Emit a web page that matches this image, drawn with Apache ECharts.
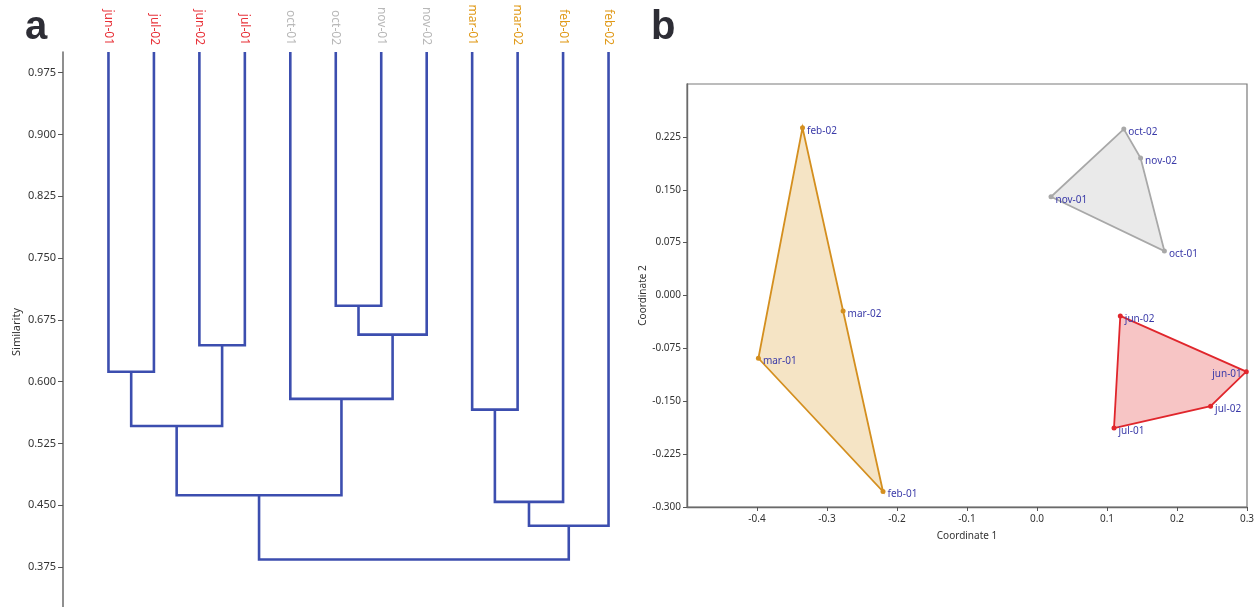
<!DOCTYPE html>
<html><head><meta charset="utf-8">
<script src="https://cdn.jsdelivr.net/npm/echarts@6/dist/echarts.min.js"></script>
<style>html,body{margin:0;padding:0;background:#fff}#c{width:1258px;height:607px}</style>
</head><body><div id="c"></div>
<script>
// ---- Panel a: dendrogram data ----
const leaves = ['jun-01','jul-02','jun-02','jul-01','oct-01','oct-02','nov-01','nov-02','mar-01','mar-02','feb-01','feb-02'];
const leafGroups = ['summer','summer','summer','summer','autumn','autumn','autumn','autumn','spring','spring','spring','spring'];
const mergeLeft = [0, 2, 12, 5, 15, 4, 14, 8, 19, 20, 18];
const mergeRight = [1, 3, 13, 6, 7, 16, 17, 9, 10, 11, 21];
const mergeSimilarity = [0.612, 0.644, 0.546, 0.692, 0.657, 0.579, 0.462, 0.566, 0.454, 0.425, 0.384];
const similarityTicks = [0.375, 0.45, 0.525, 0.6, 0.675, 0.75, 0.825, 0.9, 0.975];
const leafTop = 1.0;
const similarityMin = 0.3264;

// ---- Panel b: PCoA data ----
const pointNames = ['feb-02','mar-02','mar-01','feb-01','oct-02','nov-02','nov-01','oct-01','jun-02','jun-01','jul-02','jul-01'];
const coord1 = [-0.335, -0.277, -0.398, -0.220, 0.124, 0.148, 0.020, 0.182, 0.119, 0.299, 0.248, 0.110];
const coord2 = [0.238, -0.022, -0.089, -0.278, 0.236, 0.195, 0.140, 0.063, -0.029, -0.108, -0.157, -0.188];
const pointGroups = ['spring','spring','spring','spring','autumn','autumn','autumn','autumn','summer','summer','summer','summer'];
const coord1Ticks = [-0.4, -0.3, -0.2, -0.1, 0, 0.1, 0.2, 0.3];
const coord2Ticks = [-0.3, -0.225, -0.15, -0.075, 0, 0.075, 0.15, 0.225];

const groupOrder = ['spring','autumn','summer'];
const labelColors = {summer:'#e8333a', autumn:'#b8b8b8', spring:'#e09a1a'};
const lineColors = {summer:'#e0262c', autumn:'#a8a8a8', spring:'#d48f1f'};
const fillColors = {summer:'rgba(240,150,150,0.55)', autumn:'rgba(220,220,220,0.6)', spring:'rgba(236,206,150,0.55)'};
const FONT = 'Noto Sans';

// build dendrogram segments
const nodeX = leaves.map((_, i) => i);
const nodeH = leaves.map(() => leafTop);
const segs = [];
mergeLeft.forEach((l, k) => {
  const r = mergeRight[k], h = mergeSimilarity[k];
  segs.push({coords: [[nodeX[l], nodeH[l]], [nodeX[l], h], [nodeX[r], h], [nodeX[r], nodeH[r]]]});
  nodeX.push((nodeX[l] + nodeX[r]) / 2);
  nodeH.push(h);
});

// convex hull (monotone chain)
function hull(pts) {
  pts = pts.slice().sort((a, b) => a[0] - b[0] || a[1] - b[1]);
  const cross = (o, a, b) => (a[0]-o[0])*(b[1]-o[1]) - (a[1]-o[1])*(b[0]-o[0]);
  const lower = [], upper = [];
  for (const p of pts) { while (lower.length >= 2 && cross(lower[lower.length-2], lower[lower.length-1], p) <= 0) lower.pop(); lower.push(p); }
  for (let i = pts.length - 1; i >= 0; i--) { const p = pts[i]; while (upper.length >= 2 && cross(upper[upper.length-2], upper[upper.length-1], p) <= 0) upper.pop(); upper.push(p); }
  upper.pop(); lower.pop();
  return lower.concat(upper);
}

const series = [];
series.push({
  type: 'lines', coordinateSystem: 'cartesian2d', xAxisIndex: 0, yAxisIndex: 0,
  polyline: true, silent: true,
  lineStyle: {color: '#3c4eaf', width: 2.6, opacity: 1},
  data: segs
});

groupOrder.forEach(g => {
  const pts = [];
  pointNames.forEach((n, i) => { if (pointGroups[i] === g) pts.push([coord1[i], coord2[i], n]); });
  const h = hull(pts.map(p => [p[0], p[1]]));
  series.push({
    type: 'custom', coordinateSystem: 'cartesian2d', xAxisIndex: 1, yAxisIndex: 1, silent: true, z: 1,
    data: [[h[0][0], h[0][1]]],
    renderItem: (params, api) => ({
      type: 'polygon',
      shape: {points: h.map(p => api.coord(p))},
      style: {fill: fillColors[g], stroke: lineColors[g], lineWidth: 1.8}
    })
  });
  series.push({
    type: 'scatter', xAxisIndex: 1, yAxisIndex: 1, z: 3, symbolSize: 5,
    itemStyle: {color: lineColors[g], opacity: 1},
    label: {show: true, formatter: p => p.value[2], position: 'right', distance: 2, offset: [0, 3],
      color: '#3a3aa8', fontSize: 10, fontFamily: FONT},
    data: pts.map(p => p[2] === 'jun-01'
      ? {value: p, label: {position: 'left', distance: 2, offset: [0, 3]}}
      : {value: p})
  });
});

const chart = echarts.init(document.getElementById('c'));
chart.setOption({
  animation: false,
  backgroundColor: '#fff',
  textStyle: {fontFamily: FONT},
  grid: [
    {left: 63, top: 52, width: 591, bottom: 0, containLabel: false},
    {left: 687, top: 84, width: 560, height: 423, show: true, borderColor: '#7a7a7a', borderWidth: 1.2, containLabel: false}
  ],
  xAxis: [
    {gridIndex: 0, type: 'value', position: 'top', min: -1, max: 12, interval: 1,
      axisLine: {show: false}, axisTick: {show: false}, splitLine: {show: false},
      axisLabel: {rotate: 90, margin: 7, fontSize: 12, fontFamily: FONT,
        formatter: v => { const i = Math.round(v); if (i < 0 || i >= leaves.length) return ''; return '{' + leafGroups[i] + '|' + leaves[i] + '}'; },
        rich: {summer: {color: labelColors.summer, fontSize: 12, fontFamily: FONT}, autumn: {color: labelColors.autumn, fontSize: 12, fontFamily: FONT}, spring: {color: labelColors.spring, fontSize: 12, fontFamily: FONT}}}},
    {gridIndex: 1, type: 'value', min: -0.5, max: 0.3,
      name: 'Coordinate 1', nameLocation: 'middle', nameGap: 24, nameTextStyle: {fontSize: 10, color: '#333', fontFamily: FONT},
      axisLine: {show: true, onZero: false, lineStyle: {color: '#6a6a6a', width: 1.4}},
      axisTick: {show: true, length: 4, customValues: coord1Ticks, lineStyle: {color: '#555'}},
      splitLine: {show: false},
      axisLabel: {customValues: coord1Ticks, margin: 7, fontSize: 10, color: '#333', fontFamily: FONT, formatter: v => v.toFixed(1)}}
  ],
  yAxis: [
    {gridIndex: 0, type: 'value', min: similarityMin, max: leafTop,
      axisLine: {show: true, onZero: false, lineStyle: {color: '#6a6a6a', width: 1.5}},
      axisTick: {show: true, length: 5, customValues: similarityTicks, lineStyle: {color: '#555'}},
      splitLine: {show: false},
      axisLabel: {customValues: similarityTicks, margin: 7, fontSize: 11, color: '#333', fontFamily: FONT, formatter: v => v.toFixed(3)}},
    {gridIndex: 1, type: 'value', min: -0.3, max: 0.3,
      name: 'Coordinate 2', nameLocation: 'middle', nameGap: 28, nameTextStyle: {fontSize: 10, color: '#333', fontFamily: FONT},
      axisLine: {show: true, onZero: false, lineStyle: {color: '#6a6a6a', width: 1.4}},
      axisTick: {show: true, length: 4, customValues: coord2Ticks, lineStyle: {color: '#555'}},
      splitLine: {show: false},
      axisLabel: {customValues: coord2Ticks, margin: 6, fontSize: 10, color: '#333', fontFamily: FONT, formatter: v => v.toFixed(3)}}
  ],
  graphic: [
    {type: 'text', left: 25, top: 8, style: {text: 'a', font: 'bold 40px "Liberation Sans"', fill: '#2d2d35'}},
    {type: 'text', left: 651, top: 8, style: {text: 'b', font: 'bold 40px "Liberation Sans"', fill: '#2d2d35'}},
    {type: 'text', x: 17, y: 332, rotation: Math.PI / 2,
      style: {text: 'Similarity', font: '11px "Noto Sans"', fill: '#333', align: 'center', verticalAlign: 'middle'}}
  ],
  series: series
});
</script>
</body></html>
